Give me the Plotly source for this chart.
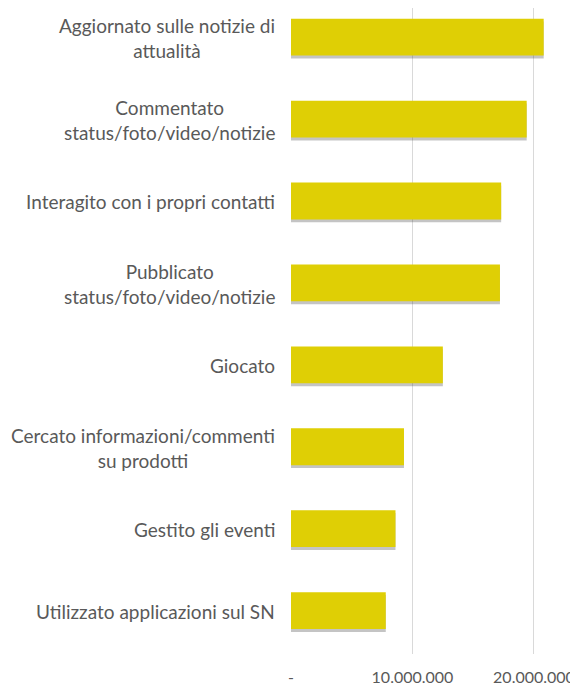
import plotly.graph_objects as go

categories = [
    "Aggiornato sulle notizie di<br>attualità",
    "Commentato<br>status/foto/video/notizie",
    "Interagito con i propri contatti",
    "Pubblicato<br>status/foto/video/notizie",
    "Giocato",
    "Cercato informazioni/commenti<br>su prodotti",
    "Gestito gli eventi",
    "Utilizzato applicazioni sul SN",
]
values = [20800000, 19400000, 17300000, 17200000, 12500000, 9300000, 8600000, 7800000]

tick_vals = [0, 10000000, 20000000]
tick_text = ["-", "10.000.000", "20.000.000"]

BAR = "#DFCF05"
TEXT = "#595959"
FONT = "Lato, 'Open Sans', sans-serif"

fig = go.Figure()

# soft shadow below the bars
fig.add_trace(go.Bar(
    x=values, y=list(range(len(values))), orientation="h",
    marker=dict(color="rgba(60,60,60,0.30)", line=dict(width=0)),
    width=0.45, offset=-0.20,
    hoverinfo="skip", showlegend=False,
))
fig.add_trace(go.Bar(
    x=values, y=list(range(len(values))), orientation="h",
    marker=dict(color=BAR, line=dict(width=0)),
    width=0.45, offset=-0.235,
    showlegend=False,
))

for i, lab in enumerate(categories):
    fig.add_annotation(
        x=0, xref="paper", xanchor="right", xshift=-14,
        y=i, yref="y", yanchor="middle",
        text=lab, showarrow=False, align="center",
        font=dict(family=FONT, size=19, color=TEXT),
    )

# the page body adds an 8px margin, so the figure is sized to fit the window
fig.update_layout(
    width=570, height=683,
    margin=dict(l=283, r=2, t=0, b=37, autoexpand=False),
    paper_bgcolor="white", plot_bgcolor="white",
    barmode="overlay",
    font=dict(family=FONT, size=16, color=TEXT),
    xaxis=dict(
        range=[0, 23.46e6], automargin=False,
        tickvals=tick_vals, ticktext=tick_text,
        showgrid=True, gridcolor="#D9D9D9", gridwidth=1,
        zeroline=False, showline=False, ticks="",
        ticklabelstandoff=12,
        tickfont=dict(family=FONT, size=16, color=TEXT),
    ),
    yaxis=dict(
        range=[7.52, -0.366], automargin=False,
        showticklabels=False, showgrid=False, zeroline=False,
        showline=False, ticks="",
    ),
)

fig.write_html("out.html")
